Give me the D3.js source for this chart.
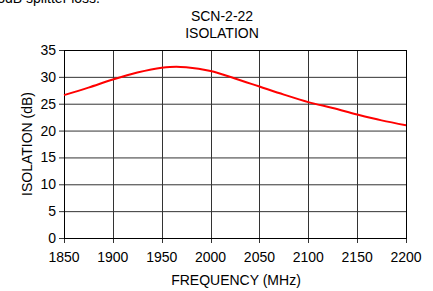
<!DOCTYPE html>
<html>
<head>
<meta charset="utf-8">
<script src="https://cdn.jsdelivr.net/npm/d3@7"></script>
<style>
  body { margin: 0; background: #fff; }
  text { font-family: "Liberation Sans", Arial, sans-serif; fill: #000; font-size: 14px; }
</style>
</head>
<body>
<div id="chart"></div>
<script>
  let freq = [1850, 1875, 1900, 1925, 1950, 1965, 1975, 2000, 2025, 2050, 2075, 2100, 2125, 2150, 2175, 2200];
  let isolation = [26.6, 28.0, 29.5, 30.8, 31.7, 31.9, 31.8, 31.1, 29.7, 28.2, 26.7, 25.3, 24.2, 23.0, 21.9, 21.0];
  let xTicks = [1850, 1900, 1950, 2000, 2050, 2100, 2150, 2200];
  let yTicks = [0, 5, 10, 15, 20, 25, 30, 35];

  let width = 433, height = 291;
  let margins = { left: 64, right: 27, top: 50, bottom: 53 };

  let svg = d3.select("#chart").append("svg").attr("width", width).attr("height", height);

  let x = d3.scaleLinear().domain([1850, 2200]).range([margins.left, width - margins.right]);
  let y = d3.scaleLinear().domain([0, 35]).range([height - margins.bottom, margins.top]);

  // cut-off text from the page above
  svg.append("text").attr("x", 100).attr("y", 3).attr("text-anchor", "end")
    .text("3dB splitter loss.");

  svg.append("text").attr("x", 222).attr("y", 21).attr("text-anchor", "middle").text("SCN-2-22");
  svg.append("text").attr("x", 222).attr("y", 38).attr("text-anchor", "middle").text("ISOLATION");

  // grid
  svg.append("g").selectAll("line").data(yTicks).enter().append("line")
    .attr("x1", x(1850) - 5).attr("x2", x(2200))
    .attr("y1", d => y(d) + 0.5).attr("y2", d => y(d) + 0.5)
    .attr("stroke", "#333").attr("stroke-width", 1);
  svg.append("g").selectAll("line").data(xTicks).enter().append("line")
    .attr("x1", d => Math.round(x(d)) + 0.5).attr("x2", d => Math.round(x(d)) + 0.5)
    .attr("y1", y(35)).attr("y2", y(0) + 5)
    .attr("stroke", "#333").attr("stroke-width", 1);

  svg.append("rect").attr("x", x(1850) + 0.5).attr("y", y(35) + 0.5)
    .attr("width", x(2200) - x(1850)).attr("height", y(0) - y(35))
    .attr("fill", "none").attr("stroke", "#000");

  svg.append("g").selectAll("text").data(yTicks).enter().append("text")
    .attr("x", x(1850) - 8).attr("y", d => y(d) + 5).attr("text-anchor", "end")
    .text(d => d);

  svg.append("g").selectAll("text").data(xTicks).enter().append("text")
    .attr("x", d => x(d)).attr("y", y(0) + 24).attr("text-anchor", "middle")
    .text(d => d);

  svg.append("text").attr("x", 236).attr("y", 285).attr("text-anchor", "middle")
    .text("FREQUENCY (MHz)");
  svg.append("text").attr("transform", "translate(32," + ((y(0) + y(35)) / 2) + ") rotate(-90)")
    .attr("text-anchor", "middle").text("ISOLATION (dB)");

  let line = d3.line()
    .x((d, i) => x(freq[i]))
    .y(d => y(d))
    .curve(d3.curveMonotoneX);

  svg.append("path").datum(isolation).attr("d", line)
    .attr("fill", "none").attr("stroke", "#ff0000").attr("stroke-width", 2);
</script>
</body>
</html>
